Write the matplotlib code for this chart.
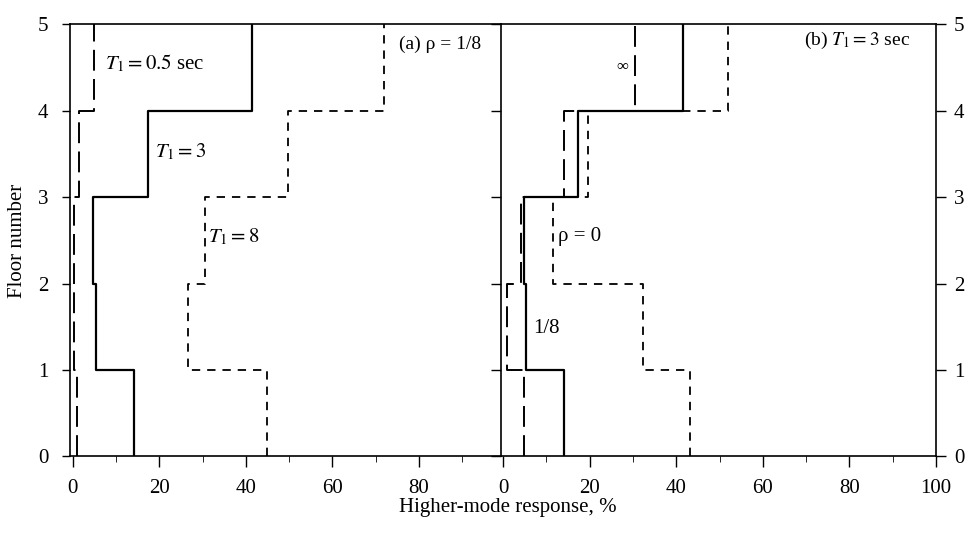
import numpy as np
import matplotlib
matplotlib.use("Agg")
import matplotlib.pyplot as plt

plt.rcParams['font.family'] = ['Liberation Serif', 'DejaVu Serif']
plt.rcParams['mathtext.fontset'] = 'stix'
plt.rcParams['lines.scale_dashes'] = False

# floor levels, story values in %
floors = [0, 1, 2, 3, 4, 5]

# (a) rho = 1/8
t05 = [1.0, 0.2, 0.3, 1.5, 5.0]
t3 = [14.1, 5.3, 4.8, 17.3, 41.5]
t8 = [44.9, 26.7, 30.5, 49.8, 72.0]

# (b) T1 = 3 sec
rho0 = [43.2, 32.2, 11.5, 19.6, 52.0]
rho18 = [14.1, 5.3, 4.8, 17.3, 41.5]
rhoinf = [4.7, 0.9, 4.0, 14.0, 30.5]

xticks_a = [0, 20, 40, 60, 80]
xticks_b = [0, 20, 40, 60, 80, 100]
yticks = [0, 1, 2, 3, 4, 5]

long_dash = (0, (15, 6))
short_dash = (0, (6, 5))


def steps(vals):
    x = np.repeat(vals, 2)
    y = np.repeat(floors, 2)[1:-1]
    return x, y


fig = plt.figure(figsize=(9.68, 5.37), dpi=100)
axa = fig.add_axes([0.0728, 0.150, 0.4447, 0.8045])
axb = fig.add_axes([0.5176, 0.150, 0.4494, 0.8045])

# left panel
for vals, ls, lw in [(t05, long_dash, 1.4), (t3, '-', 1.6), (t8, short_dash, 1.3)]:
    x, y = steps(vals)
    axa.plot(x, y, color='black', linestyle=ls, lw=lw)

axa.set_xlim(-0.5, 98.9)
axa.set_ylim(0, 5)
axa.spines['right'].set_visible(False)
axa.set_xticks(xticks_a)
axa.set_xticks([10, 30, 50, 70, 90], minor=True)
axa.set_yticks(yticks)
axa.tick_params(axis='both', direction='out', labelsize=15, width=1)
axa.tick_params(axis='x', which='major', length=8, pad=8)
axa.tick_params(axis='x', which='minor', length=4)
axa.tick_params(axis='y', length=6, pad=10)
axa.set_ylabel('Floor number', fontsize=15, labelpad=8)

axa.text(7.5, 4.55, r'$T_1 = 0.5$ sec', fontsize=15, va='center')
axa.text(19, 3.52, r'$T_1 = 3$', fontsize=15, va='center')
axa.text(31.3, 2.54, r'$T_1 = 8$', fontsize=15, va='center')
axa.text(75.3, 4.77, '(a) ρ = 1/8', fontsize=14, va='center')

# right panel
for vals, ls, lw in [(rho0, short_dash, 1.3), (rho18, '-', 1.6), (rhoinf, long_dash, 1.4)]:
    x, y = steps(vals)
    axb.plot(x, y, color='black', linestyle=ls, lw=lw)

axb.set_xlim(-0.5, 100)
axb.set_ylim(0, 5)
axb.set_xticks(xticks_b)
axb.set_xticks([10, 30, 50, 70, 90], minor=True)
axb.set_yticks(yticks)
axb.tick_params(axis='both', direction='out', labelsize=15, width=1)
axb.tick_params(axis='x', which='major', length=8, pad=8)
axb.tick_params(axis='x', which='minor', length=4)
axb.tick_params(axis='y', length=7, pad=6, left=True, right=True,
                labelleft=False, labelright=True)

axb.text(69.5, 4.81, r'(b) $T_1 = 3$ sec', fontsize=14, va='center')
axb.text(28.8, 4.51, '∞', fontsize=12, va='center', ha='right')
axb.text(12.7, 2.55, 'ρ = 0', fontsize=15, va='center')
axb.text(7.0, 1.48, '1/8', fontsize=15, va='center')

for ax in (axa, axb):
    for s in ax.spines.values():
        s.set_linewidth(1.2)

fig.text(0.525, 0.055, 'Higher-mode response, %', fontsize=15, ha='center', va='center')

fig.savefig('out.png', dpi=100)
